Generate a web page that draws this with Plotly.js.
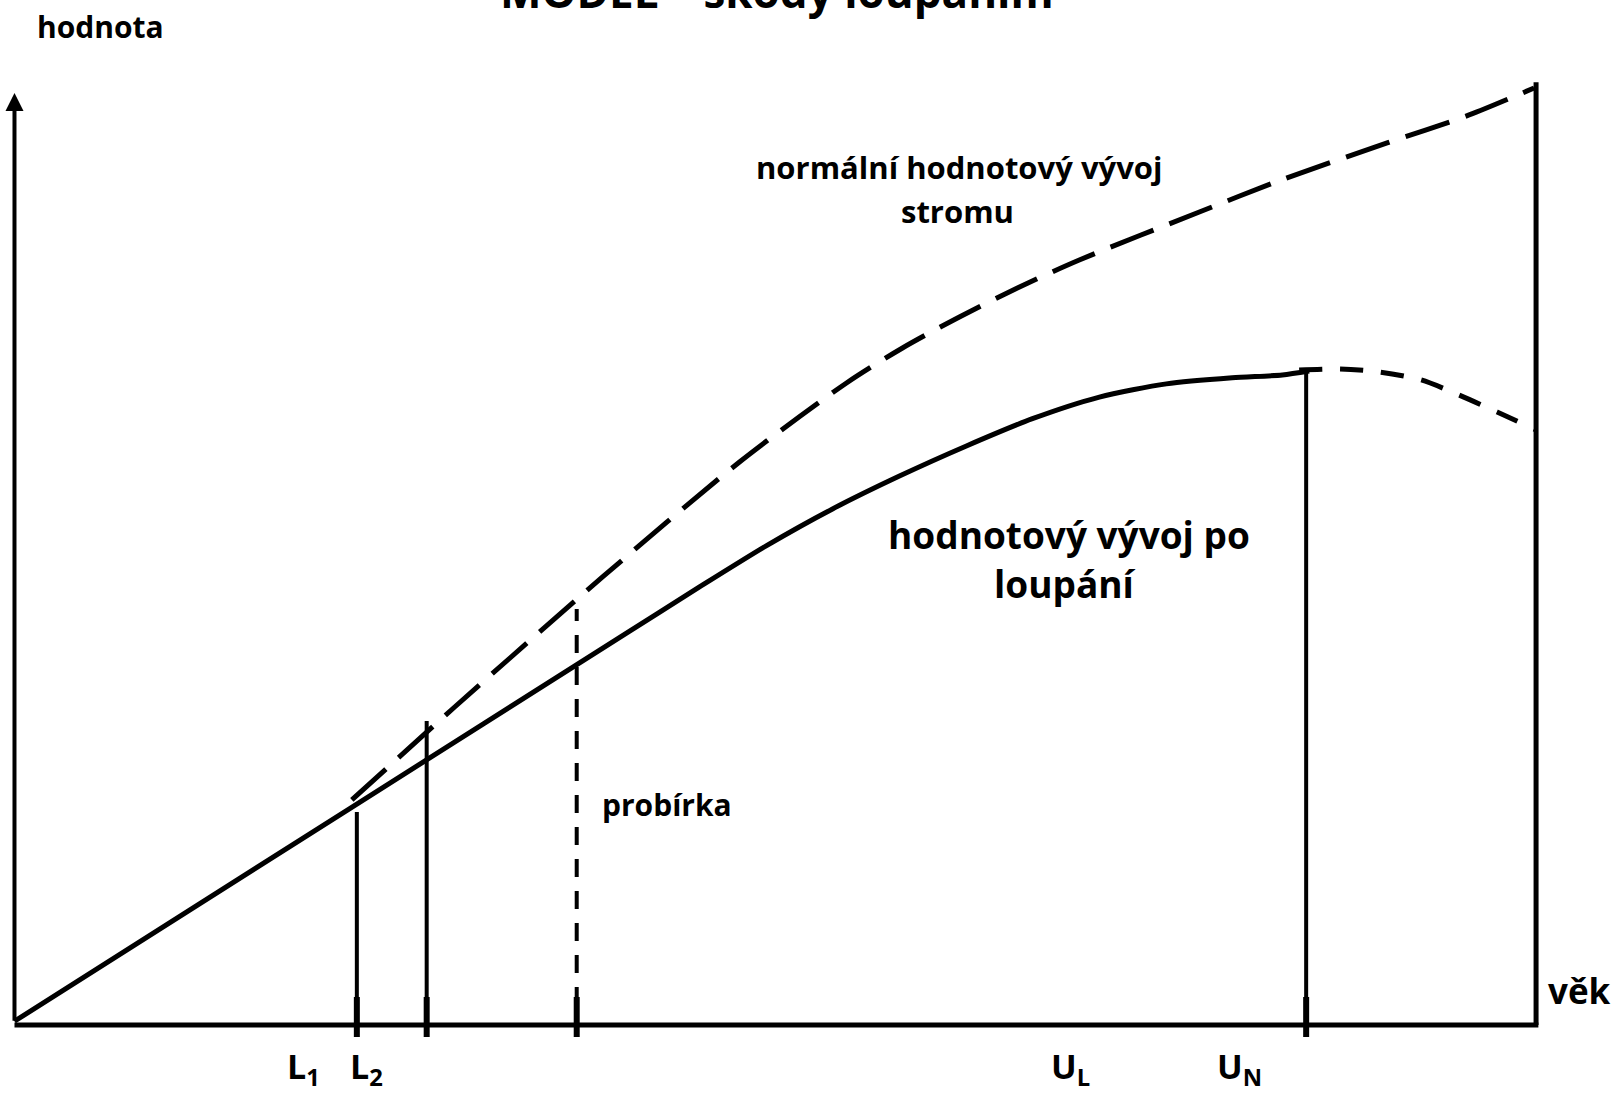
<!DOCTYPE html>
<html>
<head>
<meta charset="utf-8">
<script src="https://cdn.plot.ly/plotly-3.0.1.min.js"></script>
<style>html,body{margin:0;padding:0;background:#fff;}#chart{width:1619px;height:1093px;}</style>
</head>
<body>
<div id="chart"></div>
<script>
// ---- data (schematic units: age 0..100, value 0..100) ----
const ageSolid   = [0, 22.5, 40.43, 45.02, 49.43, 53.76, 58.16, 62.56, 66.9, 71.3, 75.7, 80.03, 83.32, 85.09];
const valueSolid = [0.4, 23.5, 41.9, 46.6, 51.0, 54.9, 58.4, 61.6, 64.5, 66.8, 68.2, 68.85, 69.15, 69.57];

const ageNormal   = [22.17, 28.93, 38.65, 47.65, 54.68, 58.36, 62.1, 65.91, 69.98, 77.87, 83.25, 90.21, 95.6, 99.87];
const valueNormal = [23.94, 33.83, 47.66, 59.89, 68.3, 72.02, 75.32, 78.4, 81.38, 86.49, 89.89, 93.83, 96.81, 99.68];

const ageDecline   = [84.43, 87.06, 89.69, 92.45, 94.94, 97.44, 100];
const valueDecline = [69.68, 69.79, 69.47, 68.62, 67.02, 65.21, 63.3];

const markerAge  = [22.5, 27.09, 36.95, 84.89];
const markerTop  = [22.66, 32.34, 44.26, 69.57];
const markerDash = ['solid', 'solid', '18px,14px', 'solid'];

const tickLabels = ['L<sub>1</sub>', 'L<sub>2</sub>', 'U<sub>L</sub>', 'U<sub>N</sub>'];
const tickLabelAge = [19.01, 23.15, 69.39, 80.49];

const titleText = 'MODEL – škody loupáním';
const yTitle = 'hodnota';
const xTitle = 'věk';
const labelNormal = ['normální hodnotový vývoj', 'stromu'];
const labelPeeled = ['hodnotový vývoj po', 'loupání'];
const labelThinning = 'probírka';

// ---- traces ----
const F = '"Open Sans", "Liberation Sans", sans-serif';
const traces = [];

// x axis and right border
traces.push({x: [0, 100.15], y: [0, 0], mode: 'lines', line: {color: '#000', width: 5}, hoverinfo: 'skip'});
traces.push({x: [100, 100], y: [0, 100.3], mode: 'lines', line: {color: '#000', width: 5}, hoverinfo: 'skip'});

// vertical markers + ticks
markerAge.forEach((a, i) => {
  traces.push({x: [a, a], y: [-1.28, markerTop[i]], mode: 'lines',
    line: {color: '#000', width: 4, dash: markerDash[i]}, hoverinfo: 'skip'});
  traces.push({x: [a, a], y: [-1.28, 2.98], mode: 'lines',
    line: {color: '#000', width: 6}, hoverinfo: 'skip'});
});

// curves
traces.push({x: ageNormal, y: valueNormal, mode: 'lines',
  line: {color: '#000', width: 5, dash: '46px,17px', shape: 'spline', smoothing: 0.8}, hoverinfo: 'skip'});
traces.push({x: ageSolid, y: valueSolid, mode: 'lines',
  line: {color: '#000', width: 5, shape: 'spline', smoothing: 0.7}, hoverinfo: 'skip'});
traces.push({x: ageDecline, y: valueDecline, mode: 'lines',
  line: {color: '#000', width: 5, dash: '23px,18px', shape: 'spline', smoothing: 0.8}, hoverinfo: 'skip'});

// ---- annotations ----
function txt(t, x, y, size, xanchor) {
  return {text: '<b>' + t + '</b>', x: x, y: y, xref: 'x', yref: 'y', showarrow: false,
    xanchor: xanchor || 'center', yanchor: 'middle', font: {family: F, size: size, color: '#000'}};
}
const ann = [];
// y axis with arrow
ann.push({x: 0, y: 99.15, ax: 0, ay: 0.3, xref: 'x', yref: 'y', axref: 'x', ayref: 'y',
  text: '', showarrow: true, arrowhead: 2, arrowsize: 0.9, arrowwidth: 4, arrowcolor: '#000'});
ann.push({text: '<b>' + titleText + '</b>', x: 0.48, y: 1.0085, xref: 'paper', yref: 'paper',
  showarrow: false, xanchor: 'center', yanchor: 'middle', font: {family: F, size: 44, color: '#000'}});
ann.push(txt(yTitle, 5.68, 106.24, 30));
ann.push(txt(xTitle, 102.87, 3.72, 35));
ann.push(txt(labelNormal[0], 62.1, 91.24, 31));
ann.push(txt(labelNormal[1], 62.0, 86.56, 31));
ann.push(txt(labelPeeled[0], 69.33, 52.17, 37));
ann.push(txt(labelPeeled[1], 69.06, 46.96, 37));
ann.push(txt(labelThinning, 38.45, 23.44, 30, 'left'));
tickLabels.forEach((t, i) => ann.push(txt(t, tickLabelAge[i], -4.57, 34)));

const layout = {
  width: 1619, height: 1093,
  margin: {l: 0, r: 0, t: 0, b: 0, pad: 0},
  paper_bgcolor: '#fff', plot_bgcolor: '#fff',
  showlegend: false,
  xaxis: {range: [-0.952, 105.45], visible: false, fixedrange: true},
  yaxis: {range: [-7.234, 109.04], visible: false, fixedrange: true},
  annotations: ann
};

Plotly.newPlot('chart', traces, layout, {displayModeBar: false, staticPlot: true});
</script>
</body>
</html>
